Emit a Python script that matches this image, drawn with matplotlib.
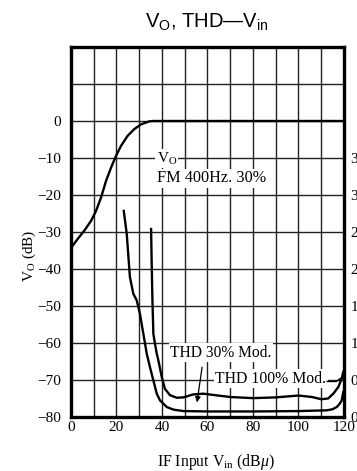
import matplotlib
matplotlib.use("Agg")
import matplotlib.pyplot as plt
import matplotlib.ticker as mticker

plt.rcParams["font.family"] = ["Liberation Serif", "DejaVu Serif"]
plt.rcParams["mathtext.fontset"] = "custom"
plt.rcParams["mathtext.rm"] = "Liberation Serif"
plt.rcParams["mathtext.it"] = "Liberation Serif:italic"
plt.rcParams["mathtext.sf"] = "Liberation Sans"

# V_O output level vs IF input
vo_x = [0, 2.9, 5.9, 8.8, 11.0, 13.2, 15.4, 17.6, 19.8, 22.0, 24.9, 27.8, 30.8, 34.4, 36.0, 120]
vo_y = [-34.3, -31.9, -29.6, -27.0, -24.3, -20.7, -16.2, -12.6, -9.4, -6.7, -4.0, -2.2, -0.9, -0.1, 0, 0]

# THD 30% modulation (lower curve)
thd30_x = [23.2, 24.5, 25.9, 27.4, 28.9, 30.3, 31.8, 33.3, 34.7, 36.2, 37.7, 39.1, 42.1, 45.0,
           49.4, 60, 80, 100, 112.4, 115.0, 116.8, 118.0, 119.0, 119.7]
thd30_y = [-24.3, -30.5, -42.2, -46.7, -48.5, -52.1, -57.5, -62.9, -66.5, -70.1, -73.7, -75.5, -77.3, -78.0,
           -78.4, -78.5, -78.5, -78.4, -78.2, -77.9, -77.3, -76.5, -75.5, -73.2]

# THD 100% modulation (upper curve)
thd100_x = [35.2, 35.5, 35.8, 36.2, 37.0, 37.7, 38.4, 39.9, 41.3, 43.5, 46.5, 49.4, 53.7, 58.2,
            62, 70, 80, 90, 100, 106, 110, 113, 115.3, 117.5, 119.0, 119.7]
thd100_y = [-29.2, -39.5, -48.5, -57.5, -60.5, -62.9, -64.7, -69.2, -72.4, -74.1, -74.8, -74.7, -73.9, -73.7,
            -74.0, -74.6, -74.9, -74.7, -74.2, -74.6, -75.2, -75.0, -73.7, -71.9, -69.6, -67.8]

x_ticks = list(range(0, 121, 10))
y_ticks = list(range(-80, 21, 10))
thd_labels = {-10: "3.5", -20: "3.0", -30: "2.5", -40: "2.0", -50: "1.5", -60: "1.0", -70: "0.5", -80: "0"}

fig = plt.figure(figsize=(3.57, 4.71), dpi=100)
ax = fig.add_axes([71 / 357, 1 - 417 / 471, 273 / 357, 370 / 471])

ax.set_xlim(0, 120)
ax.set_ylim(-80, 20)
ax.set_xticks(x_ticks)
ax.set_yticks(y_ticks)
ax.xaxis.set_major_formatter(mticker.FuncFormatter(lambda v, p: f"{int(v)}" if int(v) % 20 == 0 else ""))
ax.yaxis.set_major_formatter(mticker.FuncFormatter(
    lambda v, p: "" if v > 0 else ("0" if v == 0 else f"\u2212{abs(int(v))}")))
ax.grid(True, color="#222222", linewidth=1.0)
ax.set_axisbelow(True)
ax.tick_params(axis="both", length=0, labelsize=11)
ax.tick_params(axis="y", pad=7)
ax.tick_params(axis="x", pad=3)
for sp in ax.spines.values():
    sp.set_linewidth(2.4)

# right axis (THD %), cut off by the image edge as in the original
ax2 = ax.twinx()
ax2.set_ylim(-80, 20)
ax2.set_yticks(list(thd_labels.keys()))
ax2.set_yticklabels(list(thd_labels.values()))
ax2.tick_params(axis="y", length=0, labelsize=11, pad=4.5)
for sp in ax2.spines.values():
    sp.set_visible(False)

ax.plot(vo_x, vo_y, color="black", linewidth=1.7, zorder=3)
ax.plot(thd30_x, thd30_y, color="black", linewidth=1.7, zorder=3)
ax.plot(thd100_x, thd100_y, color="black", linewidth=1.7, zorder=3)

box = dict(facecolor="white", edgecolor="none", pad=1.0)
ax.text(37.6, -10.2, r"$\mathrm{V}_{\mathrm{O}}$", fontsize=11, ha="left", va="center", bbox=box, zorder=4)
ax.text(38.0, -15.5, "FM 400Hz. 30%", fontsize=11.7, ha="left", va="center", bbox=box, zorder=4)
ax.text(43.5, -62.6, "THD 30% Mod.", fontsize=11.2, ha="left", va="center", bbox=box, zorder=4)
ax.text(63.4, -69.6, "THD 100% Mod.", fontsize=11.3, ha="left", va="center", bbox=box, zorder=4)
ax.plot([112.6, 116.6, 118.4], [-70.4, -70.4, -69.6], color="black", linewidth=1.0, zorder=4)
ax.annotate("", xy=(55.2, -76.8), xytext=(57.8, -65.8),
            arrowprops=dict(arrowstyle="-|>", color="black", lw=0.9, mutation_scale=8), zorder=4)

fig.text(207 / 357, 1 - 22 / 471, r"$\mathsf{V}_{\mathsf{O}}$, THD—$\mathsf{V}_{\mathsf{in}}$",
         family="Liberation Sans", fontsize=14.5, ha="center", va="center")
fig.text(29 / 357, 1 - 256 / 471, r"$\mathrm{V}_{\mathrm{O}}$ (dB)", fontsize=11,
         rotation=90, ha="center", va="center")
fig.text(216 / 357, 1 - 462 / 471, r"IF Input $\mathrm{V}_{\mathrm{in}}$ (dB$\mu$)", fontsize=11.3,
         ha="center", va="center")

fig.savefig("out.png", dpi=100)
